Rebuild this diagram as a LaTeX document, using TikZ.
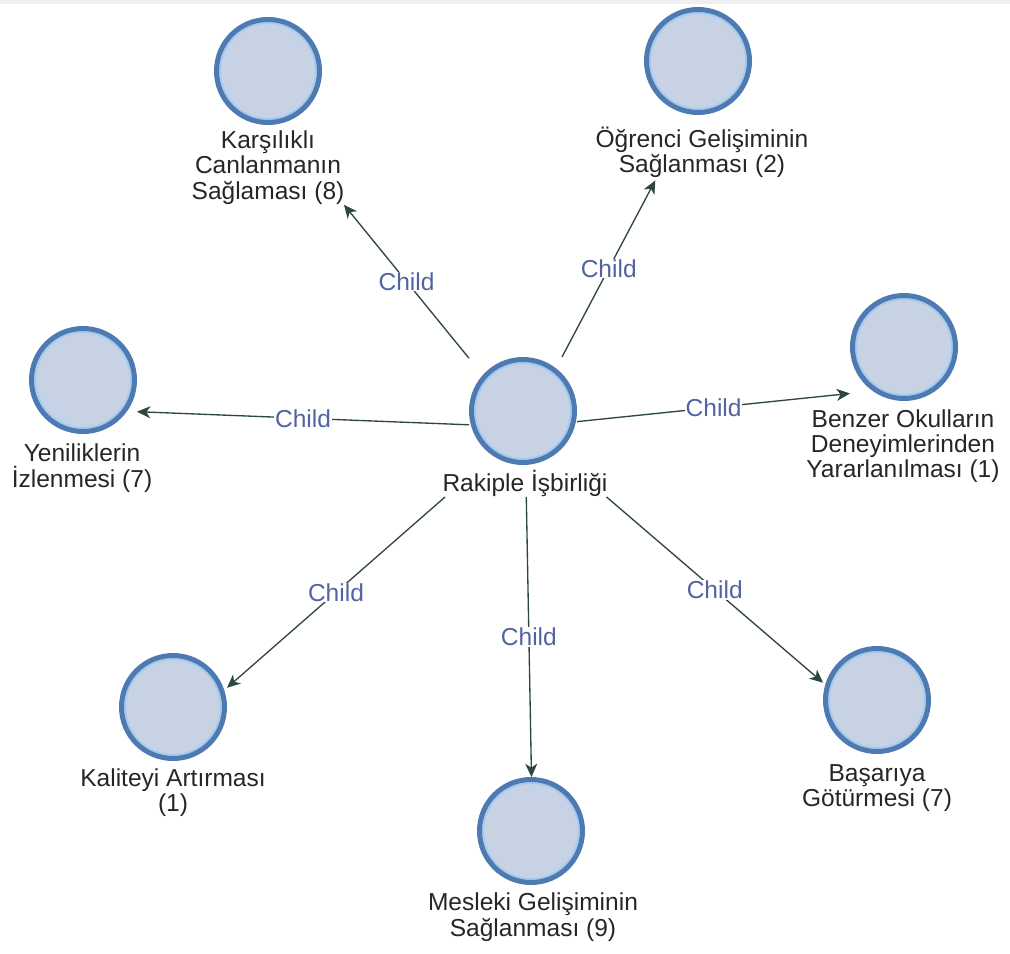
\documentclass[tikz,border=0pt]{standalone}
\usepackage{fontspec}
\setmainfont{Liberation Sans}
\usetikzlibrary{arrows.meta}
\definecolor{ringblue}{RGB}{78,122,178}
\definecolor{ringlight}{RGB}{165,202,240}
\definecolor{discfill}{RGB}{199,211,229}
\definecolor{linkgreen}{RGB}{45,70,66}
\definecolor{childblue}{RGB}{82,100,160}

\begin{document}
\begin{tikzpicture}[x=0.75pt,y=0.75pt,yscale=-1,xscale=1,
  disc/.style={circle,minimum size=77.25pt,inner sep=0pt,fill=discfill,draw=ringblue,line width=3.75pt,
    path picture={\draw[ringlight,line width=1.5pt] (path picture bounding box.center) circle[radius=36pt];}},
  caption/.style={align=center,text=black!85,font=\fontsize{18.4}{19}\selectfont},
  link/.style={draw=linkgreen,line width=1pt,-{Stealth[length=10pt,width=9pt,inset=3pt]}},
  childlbl/.style={fill=white,inner sep=0.6pt,text=childblue,font=\fontsize{18.4}{19}\selectfont}]
\useasboundingbox (0,0) rectangle (1010,953);
%Shape: Band at the top
\fill[gray!12] (0,0) rectangle (1010,4);

%Shape: Circle
\node[disc] (hub) at (523,411) {};
\coordinate (hub-g) at (525,427);
%Shape: Circle
\node[disc] (kar) at (268,71) {};
\coordinate (kar-g) at (268,111.5);
%Shape: Circle
\node[disc] (ogr) at (698,61) {};
\coordinate (ogr-g) at (702,92);
%Shape: Circle
\node[disc] (yen) at (83,380) {};
\coordinate (yen-g) at (82,409.5);
%Shape: Circle
\node[disc] (ben) at (904,347) {};
\coordinate (ben-g) at (903,388);
%Shape: Circle
\node[disc] (kal) at (173,707) {};
\coordinate (kal-g) at (173,735);
%Shape: Circle
\node[disc] (mes) at (531,831) {};
\coordinate (mes-g) at (533,859);
%Shape: Circle
\node[disc] (bas) at (877,700) {};
\coordinate (bas-g) at (877,729);

%Straight Lines
\draw[link,shorten <=66.5pt,shorten >=90.2pt] (hub-g) -- node[childlbl,pos=0.461] (c-kar) {Child} (kar-g);
%Straight Lines
\draw[link,shorten <=59.4pt,shorten >=75pt] (hub-g) -- node[childlbl,pos=0.473] (c-ogr) {Child} (ogr-g);
%Straight Lines
\draw[link,shorten <=42pt,shorten >=41.3pt] (hub-g) -- node[childlbl,pos=0.501] (c-yen) {Child} (yen-g);
%Straight Lines
\draw[link,shorten <=39.2pt,shorten >=40pt] (hub-g) -- node[childlbl,pos=0.499] (c-ben) {Child} (ben-g);
%Straight Lines
\draw[link,shorten <=79.7pt,shorten >=53.8pt] (hub-g) -- node[childlbl,pos=0.537] (c-kal) {Child} (kal-g);
%Straight Lines
\draw[link,shorten <=52.5pt,shorten >=61.5pt] (hub-g) -- node[childlbl,pos=0.486] (c-mes) {Child} (mes-g);
%Straight Lines
\draw[link,shorten <=80.6pt,shorten >=53.3pt] (hub-g) -- node[childlbl,pos=0.539] (c-bas) {Child} (bas-g);

% Text Node
\node[caption] (hub-txt) at (525,483) {Rakiple İşbirliği};
% Text Node
\node[caption] (kar-txt) at (268,167.5) {Karşılıklı\\Canlanmanın\\Sağlaması (8)};
% Text Node
\node[caption] (ogr-txt) at (702,152.5) {Öğrenci Gelişiminin\\Sağlanması (2)};
% Text Node
\node[caption] (yen-txt) at (82,468) {Yeniliklerin\\İzlenmesi (7)};
% Text Node
\node[caption] (ben-txt) at (903,446) {Benzer Okulların\\Deneyimlerinden\\Yararlanılması (1)};
% Text Node
\node[caption] (kal-txt) at (173,792.5) {Kaliteyi Artırması\\(1)};
% Text Node
\node[caption] (mes-txt) at (533,917) {Mesleki Gelişiminin\\Sağlanması (9)};
% Text Node
\node[caption] (bas-txt) at (877,788) {Başarıya\\Götürmesi (7)};
\end{tikzpicture}
\end{document}
